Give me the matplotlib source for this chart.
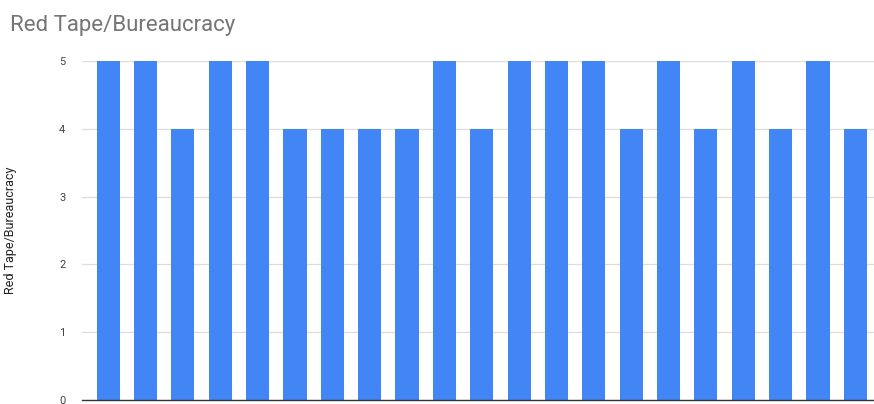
import matplotlib
matplotlib.use("Agg")
import matplotlib.pyplot as plt

plt.rcParams["font.family"] = ["Roboto", "DejaVu Sans"]

# responses, one bar per respondent
respondents = list(range(1, 22))
scores = [5, 5, 4, 5, 5, 4, 4, 4, 4, 5, 4, 5, 5, 5, 4, 5, 4, 5, 4, 5, 4]
y_ticks = [0, 1, 2, 3, 4, 5]

BLUE = "#4285F4"

fig = plt.figure(figsize=(8.74, 4.04), dpi=100, facecolor="white")
ax = fig.add_axes([82 / 874, 4 / 404, 792 / 874, 339 / 404])

xpos = [i for i in range(len(respondents))]
ax.bar(xpos, scores, width=0.62, color=BLUE, zorder=3)

ax.set_xlim(-0.70, len(respondents) - 0.5)
ax.set_ylim(0, 5)
ax.set_yticks(y_ticks)
ax.set_yticklabels([str(t) for t in y_ticks], fontsize=8, color="#444444")
ax.tick_params(axis="y", length=0, pad=12)
ax.set_xticks([])

ax.grid(axis="y", color="#dddddd", linewidth=0.9, zorder=0)
for s in ["top", "right", "left"]:
    ax.spines[s].set_visible(False)
ax.spines["bottom"].set_color("#333333")
ax.spines["bottom"].set_linewidth(1.0)
ax.spines["bottom"].set_zorder(4)

ax.set_ylabel("Red Tape/Bureaucracy", fontsize=9, color="#222222",
              stretch="condensed")
ax.yaxis.set_label_coords(-0.082, 0.5)

fig.text(10 / 874, 1 - 25 / 404, "Red Tape/Bureaucracy", fontsize=16,
         color="#757575", ha="left", va="center")

fig.savefig("out.png", dpi=100, facecolor="white")
